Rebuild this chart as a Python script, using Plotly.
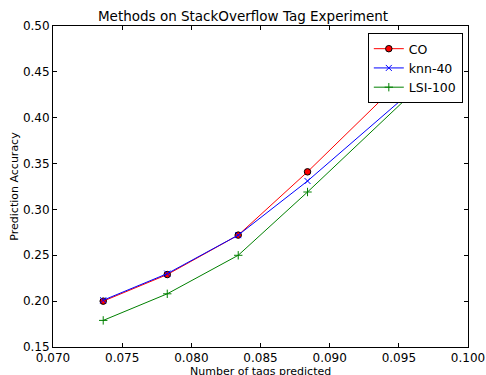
import plotly.graph_objects as go

x_vals = [0.07363, 0.07826, 0.08339, 0.08840, 0.09750]
co_vals = [0.200, 0.229, 0.272, 0.341, 0.4749]
knn_vals = [0.201, 0.230, 0.272, 0.331, 0.4497]
lsi_vals = [0.179, 0.208, 0.250, 0.319, 0.4487]

font = "DejaVu Sans"
fig = go.Figure()
fig.add_trace(go.Scatter(x=x_vals, y=co_vals, name="CO", mode="lines+markers",
                         line=dict(color="red", width=1),
                         marker=dict(symbol="circle", size=6.5, color="red",
                                     line=dict(color="black", width=1))))
fig.add_trace(go.Scatter(x=x_vals, y=knn_vals, name="knn-40", mode="lines+markers",
                         line=dict(color="blue", width=1),
                         marker=dict(symbol="x-thin", size=6, color="blue",
                                     line=dict(color="blue", width=1))))
fig.add_trace(go.Scatter(x=x_vals, y=lsi_vals, name="LSI-100", mode="lines+markers",
                         line=dict(color="green", width=1),
                         marker=dict(symbol="cross-thin", size=6, color="green",
                                     line=dict(color="green", width=1))))

axis_common = dict(showline=True, linecolor="black", linewidth=1, mirror="ticks",
                   ticks="inside", ticklen=4, tickcolor="black", showgrid=False,
                   zeroline=False, automargin=False,
                   tickfont=dict(family=font, size=12, color="black"))
fig.update_layout(
    width=486, height=375,
    margin=dict(l=53, r=18, t=26, b=28),
    paper_bgcolor="white", plot_bgcolor="white",
    title=dict(text="Methods on StackOverflow Tag Experiment", x=0.5, xanchor="center",
               y=1 - 16/375, yanchor="middle",
               font=dict(family=font, size=13.5, color="black")),
    xaxis=dict(range=[0.070, 0.100], dtick=0.005, tick0=0.070, tickformat=".3f",
               **axis_common),
    yaxis=dict(range=[0.15, 0.50], dtick=0.05, tick0=0.15, tickformat=".2f",
               title=dict(text="Prediction Accuracy", standoff=2,
                          font=dict(family=font, size=11, color="black")),
               **axis_common),
    legend=dict(x=0.9875, y=0.978, xanchor="right", yanchor="top",
                bgcolor="white", bordercolor="black", borderwidth=1,
                font=dict(family=font, size=12.5, color="black"),
                tracegroupgap=0, itemwidth=30),
    showlegend=True,
    annotations=[dict(text="Number of tags predicted", xref="paper", yref="paper",
                      x=0.5, y=-(364 - 347) / 321, xanchor="center", yanchor="top",
                      showarrow=False, borderpad=0,
                      font=dict(family=font, size=11, color="black"))],
)
fig.write_html("out.html")
